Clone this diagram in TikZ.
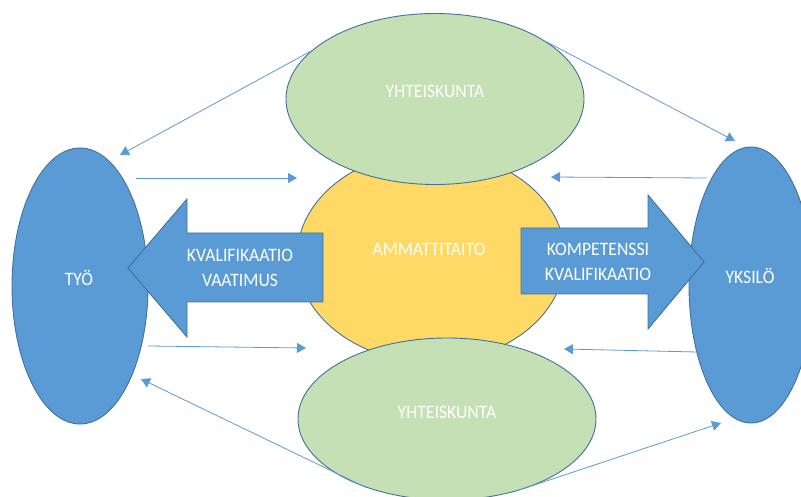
\documentclass[tikz,border=0pt]{standalone}
\usepackage{fontspec}
\setmainfont{Carlito}[FakeStretch=0.93]
\usetikzlibrary{shapes.geometric,arrows.meta}
\definecolor{cblue}{HTML}{5B9BD5}
\definecolor{cedge}{HTML}{41719C}
\definecolor{cgreen}{HTML}{C5E0B4}
\definecolor{cyellow}{HTML}{FFD966}

\begin{document}
\begin{tikzpicture}[x=1pt, y=-1pt,
          blob/.style={draw=cedge, line width=0.9pt, ellipse, inner sep=0pt},
          bigarrow/.style={draw=cedge, fill=cblue, line width=0.9pt},
          lbl/.style={text=white, font=\fontsize{19}{25}\selectfont, align=center, inner sep=0pt},
          flow/.style={draw=cblue, line width=0.8pt, -{Triangle[length=9pt, width=10pt]}}
        ]
          \useasboundingbox (0,0) rectangle (801,497);
          \clip (0,0) rectangle (801,497);

          \node[blob, fill=cblue, minimum width=136, minimum height=276] (tyo) at (80,286) {};
          \node[blob, fill=cblue, minimum width=124, minimum height=276] (yksilo) at (751,285) {};
          \node[blob, fill=cyellow, minimum width=268, minimum height=210] (amm) at (431,257) {};
          \node[blob, fill=cgreen, minimum width=298, minimum height=171] (yhttop) at (435,99) {};
          \node[blob, fill=cgreen, minimum width=298, minimum height=162] (yhtbot) at (447,419) {};

          \draw[bigarrow] (323,233) -- (187,233) -- (187,199) -- (128,268) -- (187,337) -- (187,302) -- (323,302) -- cycle;
          \draw[bigarrow] (521,228) -- (648,228) -- (648,195) -- (704,262) -- (648,329) -- (648,294) -- (521,294) -- cycle;

          \node[lbl] (tyolbl) at (79,278) {TYÖ};
          \node[lbl] (yksilolbl) at (750,276) {YKSILÖ};
          \node[lbl] (ammlbl) at (429,249.5) {AMMATTITAITO};
          \node[lbl] (yhttoplbl) at (435,91.5) {YHTEISKUNTA};
          \node[lbl] (yhtbotlbl) at (447,412.5) {YHTEISKUNTA};
          \node[lbl] (vaatimus) at (240,268) {KVALIFIKAATIO\\VAATIMUS};
          \node[lbl] (kompetenssi) at (598,261.5) {KOMPETENSSI\\KVALIFIKAATIO};

          \coordinate (tyoin1) at (120,155);
          \coordinate (yksin1) at (735,141);
          \coordinate (tyoout1) at (136,178);
          \coordinate (ammin1) at (297,178);
          \coordinate (yksout1) at (707,178);
          \coordinate (ammin2) at (551,177);
          \coordinate (tyoout2) at (148,346);
          \coordinate (ammin3) at (306,348);
          \coordinate (yksout2) at (697,352);
          \coordinate (ammin4) at (564,349);
          \coordinate (tyoin2) at (141,379);
          \coordinate (yksin2) at (721,423);

          \draw[flow] (yhttop.159) -- (tyoin1);
          \draw[flow] (yhttop.27) -- (yksin1);
          \draw[flow] (tyoout1) -- (ammin1);
          \draw[flow] (yksout1) -- (ammin2);
          \draw[flow] (tyoout2) -- (ammin3);
          \draw[flow] (yksout2) -- (ammin4);
          \draw[flow] (yhtbot.220) -- (tyoin2);
          \draw[flow] (yhtbot.-48) -- (yksin2);
        \end{tikzpicture}
\end{document}
